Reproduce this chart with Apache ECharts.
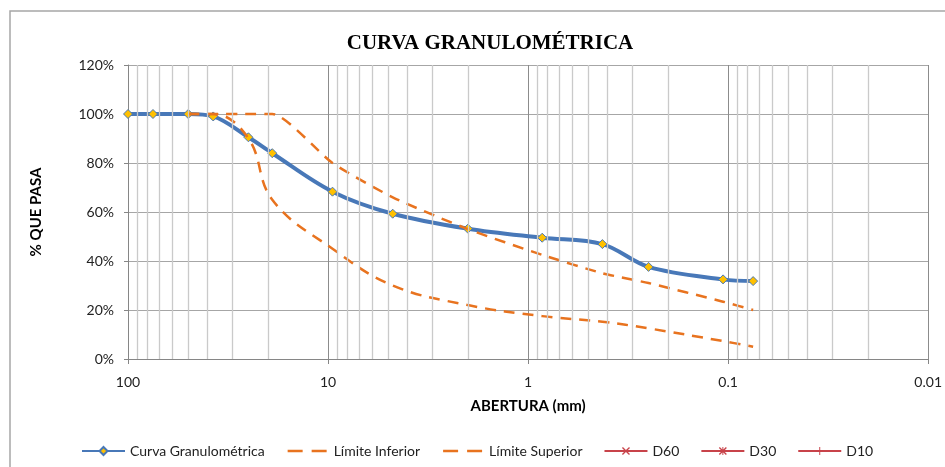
<!DOCTYPE html>
<html>
<head>
<meta charset="utf-8">
<script src="https://cdn.jsdelivr.net/npm/echarts@6/dist/echarts.min.js"></script>
<style>
  html, body { margin: 0; padding: 0; background: #fff; }
  #chart { width: 945px; height: 467px; }
</style>
</head>
<body>
<div id="chart"></div>
<script>
// abertura (mm) y % que pasa
const tamices = [100, 75, 50, 37.5, 25, 19, 9.5, 4.75, 2, 0.85, 0.425, 0.25, 0.106, 0.075]
const curva = [100, 100, 100, 99, 90.5, 84, 68.3, 59.3, 53.2, 49.5, 46.9, 37.6, 32.5, 31.8]

const tamicesLim = [50, 37.5, 25, 19, 9.5, 4.75, 2, 0.85, 0.425, 0.25, 0.106, 0.075]
const limInferior = [100, 100, 90, 65, 45, 30, 22, 17.5, 15.2, 12.5, 7.3, 5]
const limSuperior = [100, 100, 100, 100, 80, 66, 53, 42.5, 35, 31, 23.4, 20]

const yTicks = [0, 20, 40, 60, 80, 100, 120]
const decadas = [0.01, 0.1, 1, 10]

const textFont = "Lato, 'Open Sans', sans-serif"
const rojo = '#c8434a'
const naranja = '#e8731f'

// lineas menores de la rejilla log (2..9 en cada decada)
const menores = []
decadas.forEach(d => {
  for (let k = 2; k <= 9; k++) menores.push({ xAxis: +(k * d).toPrecision(3) })
})

const pares = (xs, ys) => xs.map((x, i) => [x, ys[i]])

const xMark = 'path://M0,1.2L1.2,0L10,8.8L8.8,10Z M8.8,0L10,1.2L1.2,10L0,8.8Z'
const starMark = 'path://M0,1.2L1.2,0L10,8.8L8.8,10Z M8.8,0L10,1.2L1.2,10L0,8.8Z M4.4,0H5.6V10H4.4Z'
const plusMark = 'path://M4.4,0H5.6V10H4.4Z M0,4.4H10V5.6H0Z'
// icono de leyenda: dos trazos
const dashIcon = 'path://M0,0H0.01V0.01H0Z M43,10H42.99V9.99H43Z M2,3.7H17V6.3H2Z M26,3.7H41V6.3H26Z'

const chart = echarts.init(document.getElementById('chart'))
chart.setOption({
  animation: false,
  backgroundColor: '#fff',
  graphic: [{
    type: 'rect',
    shape: { x: 10, y: 11, width: 1000, height: 1000 },
    style: { fill: 'none', stroke: '#a6a6a6', lineWidth: 1.5 },
    silent: true
  }],
  title: {
    text: 'CURVA GRANULOMÉTRICA',
    left: 485,
    textAlign: 'center',
    top: 28,
    textStyle: {
      fontFamily: "'Liberation Serif', serif",
      fontSize: 21,
      fontWeight: 'bold',
      color: '#000'
    }
  },
  grid: { left: 128, right: 13, top: 65, bottom: 108 },
  legend: {
    left: 76,
    top: 439,
    itemWidth: 43,
    itemHeight: 10,
    itemGap: 21,
    textStyle: { fontFamily: textFont, fontSize: 14, color: '#222' },
    data: [
      'Curva Granulométrica',
      { name: 'Límite Inferior', icon: dashIcon },
      { name: 'Límite Superior', icon: dashIcon },
      'D60', 'D30', 'D10'
    ]
  },
  xAxis: {
    type: 'log',
    logBase: 10,
    min: 0.01,
    max: 100,
    inverse: true,
    name: 'ABERTURA (mm)',
    nameLocation: 'middle',
    nameGap: 40,
    nameTextStyle: { fontFamily: textFont, fontSize: 15, fontWeight: 'bold', color: '#000' },
    axisLine: { lineStyle: { color: '#868686' } },
    axisTick: { show: true, length: 5, lineStyle: { color: '#868686' } },
    axisLabel: {
      margin: 16,
      fontFamily: textFont,
      fontSize: 14,
      color: '#222',
      formatter: v => String(+v.toPrecision(3))
    },
    splitLine: { show: true, lineStyle: { color: '#8c8c8c', width: 1 } }
  },
  yAxis: {
    type: 'value',
    min: yTicks[0],
    max: yTicks[yTicks.length - 1],
    interval: 20,
    name: '% QUE PASA',
    nameLocation: 'middle',
    nameGap: 84,
    nameTextStyle: { fontFamily: textFont, fontSize: 15, fontWeight: 'bold', color: '#000' },
    axisLine: { show: true, lineStyle: { color: '#868686' } },
    axisTick: { show: true, length: 4, lineStyle: { color: '#868686' } },
    axisLabel: {
      margin: 14,
      fontFamily: textFont,
      fontSize: 14,
      color: '#222',
      formatter: '{value}%'
    },
    splitLine: { lineStyle: { color: '#a6a6a6', width: 1 } }
  },
  series: [
    {
      name: 'rejilla',
      type: 'line',
      data: [],
      z: 1,
      silent: true,
      markLine: {
        silent: true,
        symbol: ['none', 'none'],
        label: { show: false },
        lineStyle: { color: '#cacaca', type: 'solid', width: 1.3 },
        data: menores
      }
    },
    {
      name: 'Curva Granulométrica',
      type: 'line',
      data: pares(tamices, curva),
      smooth: 0.35,
      z: 3,
      lineStyle: { color: '#4878b8', width: 4 },
      symbol: 'diamond',
      symbolSize: 9,
      itemStyle: { color: '#ffc000', borderColor: '#4878b8', borderWidth: 1 }
    },
    {
      name: 'Límite Inferior',
      type: 'line',
      data: pares(tamicesLim, limInferior),
      smooth: 0.4,
      z: 4,
      showSymbol: false,
      symbol: 'none',
      lineStyle: { color: naranja, width: 2.5, type: [11, 8] },
      itemStyle: { color: naranja }
    },
    {
      name: 'Límite Superior',
      type: 'line',
      data: pares(tamicesLim, limSuperior),
      smooth: 0.2,
      z: 4,
      showSymbol: false,
      symbol: 'none',
      lineStyle: { color: naranja, width: 2.5, type: [11, 8] },
      itemStyle: { color: naranja }
    },
    {
      name: 'D60', type: 'line', data: [],
      symbol: xMark, symbolSize: 9,
      lineStyle: { color: rojo, width: 2 }, itemStyle: { color: rojo }
    },
    {
      name: 'D30', type: 'line', data: [],
      symbol: starMark, symbolSize: 9,
      lineStyle: { color: rojo, width: 2 }, itemStyle: { color: rojo }
    },
    {
      name: 'D10', type: 'line', data: [],
      symbol: plusMark, symbolSize: 9,
      lineStyle: { color: rojo, width: 2 }, itemStyle: { color: rojo }
    }
  ]
})
</script>
</body>
</html>
